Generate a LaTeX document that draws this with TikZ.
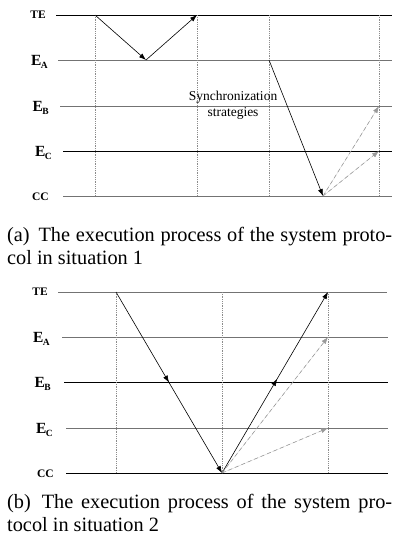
\documentclass[tikz,border=0pt]{standalone}
\usepackage{fontspec}
\setmainfont{Liberation Serif}
\usetikzlibrary{arrows.meta,decorations.markings}
\tikzset{
  hline/.style={line width=0.9pt},
  hgray/.style={hline, draw=black!55},
  hblack/.style={hline, draw=black},
  vdot/.style={draw=black!45, line width=0.5pt, dash pattern=on 0.8pt off 1pt},
  msg/.style={draw=black, line width=0.6pt, -{Latex[length=7pt,width=5pt]}},
  msgmid/.style={msg, postaction={decorate}, decoration={markings, mark=at position #1 with {\arrow{Latex[length=7pt,width=5pt]}}}},
  sync/.style={draw=black!40, fill=black!40, line width=0.6pt, dash pattern=on 4pt off 3pt, -{Latex[length=7pt,width=5pt]}},
  lbl/.style={anchor=east, inner sep=0pt, font=\fontsize{11.5}{12}\selectfont\bfseries},
  elbl/.style={anchor=east, inner sep=0pt, font=\fontsize{15.5}{15}\selectfont\bfseries},
  captext/.style={anchor=base west, inner sep=0pt, font=\fontsize{20.3}{24}\selectfont},
  txt/.style={inner sep=0pt, font=\fontsize{13.5}{16}\selectfont}
}
\newcommand{\Esub}[1]{E\kern-0.5pt\raisebox{-0.22em}{\fontsize{9.5}{9}\selectfont #1}}
\begin{document}
\begin{tikzpicture}[x=1pt,y=-1pt]
\useasboundingbox (0,0) rectangle (401,544);
% ================= panel (a) =================
\node[lbl]  (aTE) at (46,15) {TE};
\node[elbl] (aEA) at (48,62) {\Esub{A}};
\node[elbl] (aEB) at (49,108) {\Esub{B}};
\node[elbl] (aEC) at (52,153) {\Esub{C}};
\node[lbl]  (aCC) at (49,197) {CC};
\draw[hblack] (56,15) -- (392,15);
\draw[hgray]  (58,60) -- (392,60);
\draw[hgray]  (60,106) -- (392,106);
\draw[hblack] (63,151) -- (392,151);
\draw[hgray]  (63,196) -- (392,196);
% vertical dotted
\foreach \x in {95,197,269,379} \draw[vdot] (\x,15) -- (\x,196);
\coordinate (a1) at (95,15);
\coordinate (a2) at (146,60);
\coordinate (a3) at (197,15);
\coordinate (a4) at (269,60);
\coordinate (a5) at (323,196);
\coordinate (a6) at (379,106);
\coordinate (a7) at (379,151);
\draw[msg] (a1) -- (a2);
\draw[msg] (a2) -- (a3);
\draw[msg] (a4) -- (a5);
\draw[sync] (a5) -- (a6);
\draw[sync] (a5) -- (a7);
\node[txt] (syn1) at (233,97) {Synchronization};
\node[txt] (syn2) at (233,113) {strategies};
\node[captext] (capa1) at (7,241) {\makebox[385pt][s]{(a)\hspace{0.15em} The execution process of the system proto-}};
\node[captext] (capa2) at (7,264) {col in situation 1};
% ================= panel (b) =================
\node[lbl]  (bTE) at (48,292) {TE};
\node[elbl] (bEA) at (50,339) {\Esub{A}};
\node[elbl] (bEB) at (51,384) {\Esub{B}};
\node[elbl] (bEC) at (53,430) {\Esub{C}};
\node[lbl]  (bCC) at (54,474) {CC};
\draw[hgray]  (58,292) -- (387,292);
\draw[hgray]  (62,337) -- (388,337);
\draw[hblack] (64,382) -- (388,382);
\draw[hgray]  (66,428) -- (388,428);
\draw[hblack] (66,473) -- (388,473);
\foreach \x in {116,222,328} \draw[vdot] (\x,292) -- (\x,473);
\coordinate (b1) at (116,292);
\coordinate (b2) at (222,473);
\coordinate (b3) at (328,292);
\coordinate (b4) at (328,337);
\coordinate (b5) at (328,428);
\draw[msgmid=0.5] (b1) -- (b2);
\draw[msgmid=0.52] (b2) -- (b3);
\draw[sync] (b2) -- (b4);
\draw[sync] (b2) -- (b5);
\node[captext] (capb1) at (7,508) {\makebox[385pt][s]{(b)\hspace{0.15em} The execution process of the system pro-}};
\node[captext] (capb2) at (7,531) {tocol in situation 2};
\end{tikzpicture}
\end{document}
